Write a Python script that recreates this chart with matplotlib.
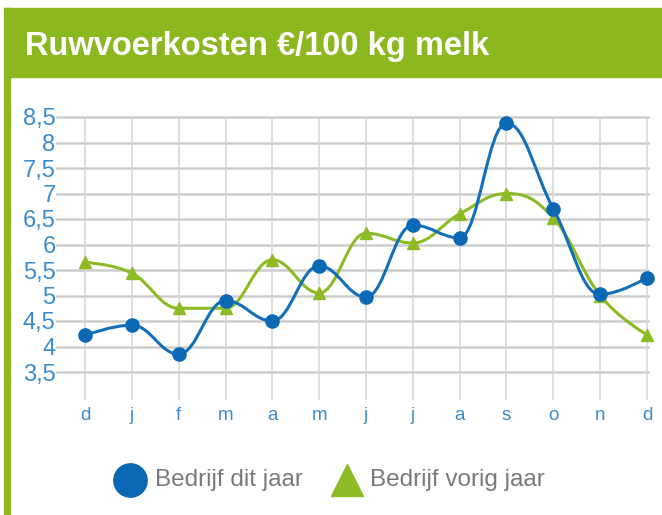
import numpy as np
import matplotlib
matplotlib.use('Agg')
import matplotlib.pyplot as plt
from matplotlib.path import Path
from matplotlib.patches import PathPatch, Rectangle
from matplotlib.lines import Line2D

maanden = ['d', 'j', 'f', 'm', 'a', 'm', 'j', 'j', 'a', 's', 'o', 'n', 'd']
dit_jaar = [4.22, 4.42, 3.85, 4.9, 4.5, 5.58, 4.97, 6.38, 6.13, 8.38, 6.7, 5.02, 5.35]
vorig_jaar = [5.65, 5.44, 4.75, 4.75, 5.7, 5.05, 6.22, 6.03, 6.6, 7.0, 6.52, 5.0, 4.23]
y_ticks = [3.5, 4, 4.5, 5, 5.5, 6, 6.5, 7, 7.5, 8, 8.5]
reeksen = ['Bedrijf dit jaar', 'Bedrijf vorig jaar']

blauw = '#136fba'
groen = '#8dbb26'
label_blauw = '#3a8ccf'


def spline_path(xs, ys, smoothing=1.5):
    # highcharts-achtige spline: kubische bezier met controlepunten
    n = len(xs)
    rc = [None] * n
    lc = [None] * n
    denom = smoothing + 1
    for i in range(1, n - 1):
        px, py = xs[i], ys[i]
        lx, ly = xs[i - 1], ys[i - 1]
        nx, ny = xs[i + 1], ys[i + 1]
        lcx = (smoothing * px + lx) / denom
        lcy = (smoothing * py + ly) / denom
        rcx = (smoothing * px + nx) / denom
        rcy = (smoothing * py + ny) / denom
        corr = 0
        if rcx != lcx:
            corr = (rcy - lcy) * (rcx - px) / (rcx - lcx) + py - rcy
        lcy += corr
        rcy += corr
        if lcy > ly and lcy > py:
            lcy = max(ly, py)
            rcy = 2 * py - lcy
        elif lcy < ly and lcy < py:
            lcy = min(ly, py)
            rcy = 2 * py - lcy
        if rcy > ny and rcy > py:
            rcy = max(ny, py)
            lcy = 2 * py - rcy
        elif rcy < ny and rcy < py:
            rcy = min(ny, py)
            lcy = 2 * py - rcy
        lc[i] = (lcx, lcy)
        rc[i] = (rcx, rcy)
    verts = [(xs[0], ys[0])]
    codes = [Path.MOVETO]
    for i in range(1, n):
        c1 = rc[i - 1] if rc[i - 1] else (xs[i - 1], ys[i - 1])
        c2 = lc[i] if lc[i] else (xs[i], ys[i])
        verts += [c1, c2, (xs[i], ys[i])]
        codes += [Path.CURVE4] * 3
    return Path(verts, codes)


W, H = 662, 515
fig = plt.figure(figsize=(W / 100, H / 100), dpi=100)

# groene kop en linkerrand
fig.patches.append(Rectangle((5 / W, 1 - 77 / H), 1, 69 / H, transform=fig.transFigure,
                             color='#8cb81f', zorder=0))
fig.patches.append(Rectangle((4 / W, 0), 6 / W, 1 - 8 / H, transform=fig.transFigure,
                             color='#8cb81f', zorder=0))
fig.text(25 / W, 1 - 55 / H, 'Ruwvoerkosten €/100 kg melk', color='white', fontsize=23.5,
         fontweight='bold', family='Liberation Sans', va='baseline', ha='left')

ax = fig.add_axes([57 / W, 1 - 400 / H, (648 - 57) / W, (400 - 112) / H])
x = np.arange(len(maanden))
sp = 562 / 12
ax.set_xlim(-(85 - 57) / sp, 12 + 1 / sp)
ax.set_ylim(3.5 - 28 / 51, 8.5 + 5 / 51)

for yt in y_ticks:
    ax.axhline(yt, color='#cdcdcd', lw=1.8, zorder=1, clip_on=False)
ax.vlines(x, ax.get_ylim()[0], 8.5, color='#d5d5d5', lw=1.1, zorder=1)

ax.add_patch(PathPatch(spline_path(x, vorig_jaar), fill=False, edgecolor=groen, lw=2.2,
                       zorder=3, clip_on=False))
ax.plot(x, vorig_jaar, ls='none', marker='^', ms=9, color=groen, zorder=4, clip_on=False)
ax.add_patch(PathPatch(spline_path(x, dit_jaar), fill=False, edgecolor=blauw, lw=2.2,
                       zorder=5, clip_on=False))
ax.plot(x, dit_jaar, ls='none', marker='o', ms=9.5, color='#0a68b4', zorder=6, clip_on=False)

ax.set_yticks(y_ticks)
ax.set_yticklabels([f'{v:g}'.replace('.', ',') for v in y_ticks], family='Liberation Sans',
                   fontsize=17, color=label_blauw)
ax.set_xticks(x)
ax.set_xticklabels(maanden, family='Liberation Sans', fontsize=13.5, color=label_blauw)
ax.tick_params(axis='y', length=0, pad=1)
ax.tick_params(axis='x', length=0, pad=5)
for s in ax.spines.values():
    s.set_visible(False)

# legenda onderaan
ly = 1 - 480 / H
fig.add_artist(Line2D([130 / W], [ly], transform=fig.transFigure, ls='none', marker='o',
                      ms=24, color='#0a68b4'))
fig.text(155 / W, ly, reeksen[0], family='Liberation Sans', fontsize=17.5, color='#7a7a7a',
         va='center', ha='left')
fig.add_artist(Line2D([347 / W], [ly], transform=fig.transFigure, ls='none', marker='^',
                      ms=23, color=groen))
fig.text(370 / W, ly, reeksen[1], family='Liberation Sans', fontsize=17.5, color='#7a7a7a',
         va='center', ha='left')

fig.savefig('out.png', dpi=100)
